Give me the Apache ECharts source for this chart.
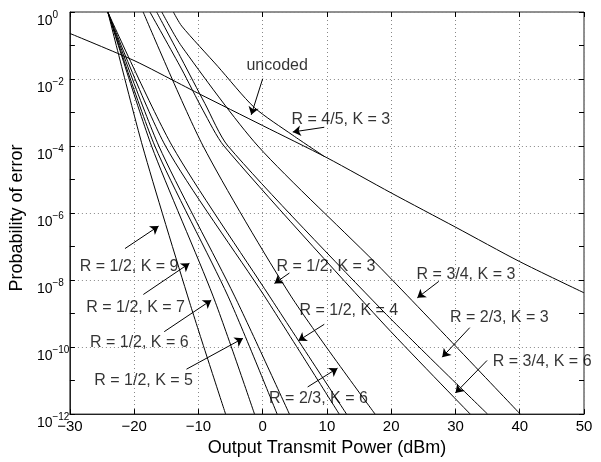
<!DOCTYPE html>
<html>
<head>
<meta charset="utf-8">
<script src="https://cdn.jsdelivr.net/npm/echarts@6/dist/echarts.min.js"></script>
<style>
  html, body { margin: 0; padding: 0; background: #fff; }
  #chart { width: 601px; height: 462px; }
</style>
</head>
<body>
<div id="chart"></div>
<script>
// Bit error probability vs. output transmit power for several convolutional codes.
// Every curve is a list of power values (dBm) and the matching log10 of the error probability.

var r12k9Power = [-24.1, -18.7, -11.35, -5.77];
var r12k9Log   = [0, -4, -8.68, -12];
var r12k7Power = [-24.1, -17.29, -7.72, -1.27];
var r12k7Log   = [0, -4, -8.48, -12];
var r12k6Power = [-24.1, -16.78, -5.4, 2.25];
var r12k6Log   = [0, -4, -8.48, -12];
var r12k5Power = [-24.1, -16.16, -4.37, 4.16];
var r12k5Log   = [0, -4, -8.48, -12];
var r12k4Power = [-24.1, -15.12, 0.28, 11.91];
var r12k4Log   = [0, -4, -8.48, -12];
var r12k3Power = [-24.1, -14.08, 1.05, 13.05];
var r12k3Log   = [0, -4, -8.48, -12];
var r23k6Power = [-18.6, -9.27, 4.4, 17.49];
var r23k6Log   = [0, -4, -8.48, -12];
var r34k6Power = [-17.55, -12.63, -9.3, -6.02, 18.4, 32.3];
var r34k6Log   = [0, -1.7, -2.93, -4, -9.22, -12];
var r23k3Power = [-16.5, -12.63, -9.0, -5.4, 18.4, 35.0];
var r23k3Log   = [0, -1.4, -2.73, -4, -8.86, -12];
var r34k3Power = [-15.7, -12.63, -0.74, 18.4, 40.08];
var r34k3Log   = [0, -1.02, -4, -7.65, -12];
var r45k3Power = [-13.9, -12.6, -7, -1.3, 4.7, 9.5];
var r45k3Log   = [0, -0.42, -1.62, -2.85, -3.68, -4.3];
var uncodedPower = [-30, -20, -12.63, -10, 0, 10, 20, 30, 40, 50];
var uncodedLog   = [-0.64, -1.45, -2.17, -2.43, -3.39, -4.35, -5.4, -6.42, -7.45, -8.38];

// axis ticks
var powerTicks = [-30, -20, -10, 0, 10, 20, 30, 40, 50];
var decadeTicks = [-12, -10, -8, -6, -4, -2, 0];

// annotation text, text centre, arrow tail, arrow head  ([dBm, log10 P])
var notes = [
  { text: 'uncoded',        at: [2.25, -1.61],   from: [0.0, -1.99],    to: [-1.78, -3.07] },
  { text: 'R = 4/5, K = 3', at: [12.17, -3.22],  from: [9.58, -3.44],   to: [4.68, -3.58] },
  { text: 'R = 1/2, K = 9', at: [-20.78, -7.6],  from: [-21.43, -7.06], to: [-16.2, -6.39] },
  { text: 'R = 1/2, K = 7', at: [-19.77, -8.81], from: [-18.57, -8.43], to: [-11.4, -7.5] },
  { text: 'R = 1/2, K = 6', at: [-19.2, -9.88],  from: [-15.32, -9.54], to: [-8.0, -8.6] },
  { text: 'R = 1/2, K = 5', at: [-18.53, -10.99], from: [-11.86, -10.66], to: [-3.07, -9.74] },
  { text: 'R = 1/2, K = 3', at: [9.84, -7.6],    from: [4.16, -7.79],   to: [1.83, -8.1] },
  { text: 'R = 1/2, K = 4', at: [13.41, -8.92],  from: [9.58, -9.32],   to: [5.55, -9.81] },
  { text: 'R = 2/3, K = 6', at: [8.68, -11.53],  from: [7.0, -11.19],   to: [11.65, -10.63] },
  { text: 'R = 3/4, K = 3', at: [31.63, -7.85],  from: [27.4, -8.04],   to: [24.06, -8.53] },
  { text: 'R = 2/3, K = 3', at: [36.82, -9.12],  from: [32.22, -9.42],  to: [27.94, -10.3] },
  { text: 'R = 3/4, K = 6', at: [43.49, -10.43], from: [34.91, -10.4],  to: [30.0, -11.37] }
];

var curves = [
  [r12k9Power, r12k9Log], [r12k7Power, r12k7Log], [r12k6Power, r12k6Log],
  [r12k5Power, r12k5Log], [r12k4Power, r12k4Log], [r12k3Power, r12k3Log],
  [r23k6Power, r23k6Log], [r34k6Power, r34k6Log], [r23k3Power, r23k3Log],
  [r34k3Power, r34k3Log], [r45k3Power, r45k3Log], [uncodedPower, uncodedLog]
];

function pairs(xs, ys) {
  return xs.map(function (x, i) { return [x, ys[i]]; });
}

var font = 'Liberation Sans, Arial, Helvetica, sans-serif';
var series = curves.map(function (c) {
  return {
    type: 'line', data: pairs(c[0], c[1]), showSymbol: false, symbol: 'none',
    smooth: 0.25,
    lineStyle: { color: '#000', width: 1 }, silent: true, clip: true
  };
});

// arrows
series.push({
  type: 'line', data: [], silent: true,
  markLine: {
    silent: true, animation: false,
    symbol: ['none', 'arrow'], symbolSize: 8,
    lineStyle: { color: '#000', width: 1, type: 'solid' },
    itemStyle: { color: '#000' },
    label: { show: false },
    data: notes.map(function (n) {
      return [{ coord: n.from }, { coord: n.to }];
    })
  }
});

// annotation texts
series.push({
  type: 'scatter', silent: true, symbolSize: 0,
  itemStyle: { color: 'rgba(0,0,0,0)' },
  label: {
    show: true, position: 'inside', color: '#000',
    fontFamily: font, fontSize: 16,
    formatter: function (p) { return p.name; }
  },
  data: notes.map(function (n) { return { name: n.text, value: n.at }; })
});

var tickInside = { show: true, inside: true, length: 5, lineStyle: { color: '#000' } };
var dotted = { show: true, lineStyle: { color: '#888', type: [1, 3], width: 1 } };

function expLabel(v) {
  return '{b|10}{s|' + (v < 0 ? '\u2212' + (-v) : v) + '}';
}

var option = {
  animation: false,
  backgroundColor: '#fff',
  grid: { left: 68, right: 17, top: 12, bottom: 42, show: true, borderColor: '#222', borderWidth: 1 },
  xAxis: [
    {
      type: 'value', min: powerTicks[0], max: powerTicks[powerTicks.length - 1], interval: 10,
      position: 'bottom',
      axisLine: { show: true, onZero: false, lineStyle: { color: '#222' } },
      axisTick: tickInside,
      axisLabel: { color: '#000', fontSize: 15, fontFamily: font, margin: 5,
        formatter: function (v) { return v < 0 ? '\u2212' + Math.abs(v) : String(v); } },
      splitLine: dotted,
      name: 'Output Transmit Power (dBm)', nameLocation: 'middle', nameGap: 19,
      nameTextStyle: { color: '#000', fontSize: 18, fontFamily: font }
    },
    {
      type: 'value', min: powerTicks[0], max: powerTicks[powerTicks.length - 1], interval: 10,
      position: 'top',
      axisLine: { show: false, onZero: false }, axisTick: tickInside, axisLabel: { show: false },
      splitLine: { show: false }
    }
  ],
  yAxis: [
    {
      type: 'value', min: decadeTicks[0], max: decadeTicks[decadeTicks.length - 1], interval: 2,
      position: 'left',
      axisLine: { show: true, onZero: false, lineStyle: { color: '#222' } },
      axisTick: { show: false },
      axisLabel: {
        color: '#000', fontFamily: font, align: 'left', margin: 33,
        padding: [12, 0, 0, 0],
        formatter: expLabel,
        rich: {
          b: { fontSize: 14, fontFamily: font, color: '#000', padding: [7, 0, 0, 0] },
          s: { fontSize: 10, fontFamily: font, color: '#000', padding: [0, 0, 5, 0] }
        }
      },
      splitLine: dotted,
      name: 'Probability of error', nameLocation: 'middle', nameGap: 27,
      nameTextStyle: { color: '#000', fontSize: 18, fontFamily: font, padding: [0, 10, 0, 0] }
    },
    {
      type: 'value', min: -12, max: 0, interval: 1, position: 'left',
      axisLine: { show: false, onZero: false }, axisTick: tickInside, axisLabel: { show: false },
      splitLine: { show: false }
    },
    {
      type: 'value', min: -12, max: 0, interval: 1, position: 'right',
      axisLine: { show: false, onZero: false }, axisTick: tickInside, axisLabel: { show: false },
      splitLine: { show: false }
    }
  ],
  series: series
};

var chart = echarts.init(document.getElementById('chart'), null, { renderer: 'canvas' });
chart.setOption(option);
</script>
</body>
</html>
